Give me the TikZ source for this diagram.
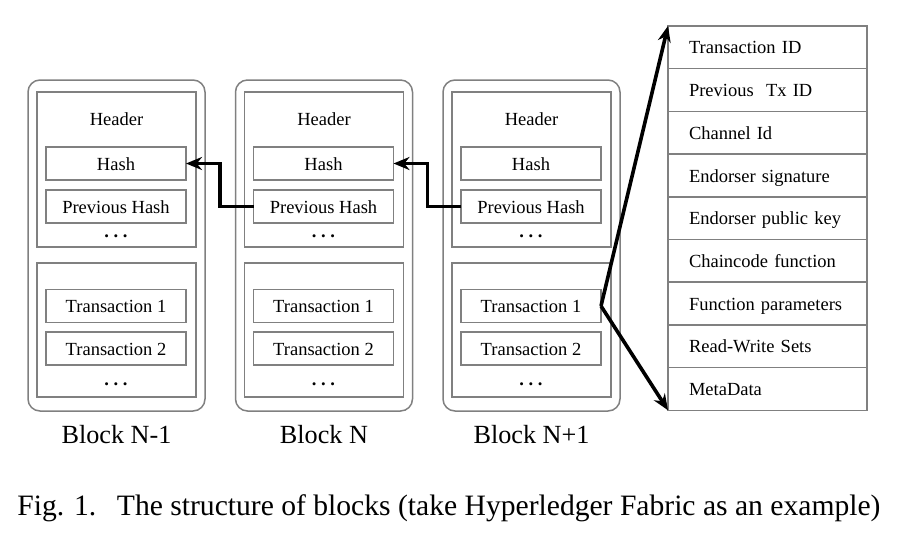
\documentclass[tikz,border=0pt]{standalone}
\usepackage{fontspec}
\setmainfont{Liberation Serif}
\usetikzlibrary{arrows.meta}

\begin{document}
\begin{tikzpicture}[x=0.5pt,y=-0.5pt,
  box/.style={draw=black!50,line width=0.75pt,outer sep=0pt,inner sep=0pt},
  blk/.style={box,rounded corners=6pt,minimum width=88.5pt,minimum height=165.5pt},
  part/.style={box,minimum width=79.5pt},
  field/.style={box,minimum width=70pt,minimum height=16.5pt,text height=6.6pt,text depth=0pt,font=\fontsize{9.25}{11}\selectfont},
  txt/.style={font=\fontsize{9.25}{11}\selectfont,anchor=base},
  dots/.style={font=\fontsize{9.25}{11}\selectfont\bfseries,anchor=base},
  lbl/.style={font=\fontsize{13.1}{15}\selectfont,anchor=base},
  row/.style={box,minimum width=99.5pt,minimum height=21.35pt,text width=78.5pt,inner xsep=10.5pt,text height=6.6pt,text depth=0pt,align=left,font=\fontsize{9.25}{11}\selectfont},
  link/.style={line width=1.8pt,-{Stealth[length=8pt,width=6.5pt]}}]

\useasboundingbox (0,0) rectangle (914,536);

% Block N-1
\node[blk] (blkA) at (116.5,245.5) {};
\node[part,minimum height=77.5pt] (headA) at (116.5,169.5) {};
\node[txt] (headtA) at (116.5,125) {Header};
\node[field] (hashA) at (116,163.5) {Hash};
\node[field] (prevA) at (116,206.5) {Previous Hash};
\node[dots] (hdotsA) at (116,237) {.~.~.};
\node[part,minimum height=67pt] (bodyA) at (116.5,330) {};
\node[field] (txaA) at (116,306) {Transaction 1};
\node[field] (txbA) at (116,348.5) {Transaction 2};
\node[dots] (tdotsA) at (116,385) {.~.~.};
\node[lbl] (nameA) at (116.5,443) {Block N-1};

% Block N
\node[blk] (blkB) at (324,245.5) {};
\node[part,minimum height=77.5pt] (headB) at (324,169.5) {};
\node[txt] (headtB) at (324,125) {Header};
\node[field] (hashB) at (323.5,163.5) {Hash};
\node[field] (prevB) at (323.5,206.5) {Previous Hash};
\node[dots] (hdotsB) at (323.5,237) {.~.~.};
\node[part,minimum height=67pt] (bodyB) at (324,330) {};
\node[field] (txaB) at (323.5,306) {Transaction 1};
\node[field] (txbB) at (323.5,348.5) {Transaction 2};
\node[dots] (tdotsB) at (323.5,385) {.~.~.};
\node[lbl] (nameB) at (324,443) {Block N};

% Block N+1
\node[blk] (blkC) at (531.5,245.5) {};
\node[part,minimum height=77.5pt] (headC) at (531.5,169.5) {};
\node[txt] (headtC) at (531.5,125) {Header};
\node[field] (hashC) at (531,163.5) {Hash};
\node[field] (prevC) at (531,206.5) {Previous Hash};
\node[dots] (hdotsC) at (531,237) {.~.~.};
\node[part,minimum height=67pt] (bodyC) at (531.5,330) {};
\node[field] (txaC) at (531,306) {Transaction 1};
\node[field] (txbC) at (531,348.5) {Transaction 2};
\node[dots] (tdotsC) at (531,385) {.~.~.};
\node[lbl] (nameC) at (531.5,443) {Block N+1};

% transaction fields
\node[row] (tid) at (767.5,47.3) {Transaction ID};
\node[row] (ptid) at (767.5,90) {Previous~ Tx ID};
\node[row] (chan) at (767.5,132.7) {Channel Id};
\node[row] (esig) at (767.5,175.4) {Endorser signature};
\node[row] (ekey) at (767.5,218.1) {Endorser public key};
\node[row] (ccf) at (767.5,260.8) {Chaincode function};
\node[row] (fpar) at (767.5,303.5) {Function parameters};
\node[row] (rws) at (767.5,346.2) {Read-Write Sets};
\node[row] (meta) at (767.5,388.9) {MetaData};

% hash links
\draw[link] (prevB.west) -- ++(-33.5,0) |- (hashA.east);
\draw[link] (prevC.west) -- ++(-33.5,0) |- (hashB.east);

% expansion of Transaction 1
\draw[link] (txaC.east) -- (tid.north west);
\draw[link] (txaC.east) -- (meta.south west);

\node[anchor=base west,inner sep=0pt,font=\fontsize{14.8}{17}\selectfont] (caption) at (17,515.7) {Fig. 1.\hspace{10.3pt}The structure of blocks (take Hyperledger Fabric as an example)};

\end{tikzpicture}
\end{document}
